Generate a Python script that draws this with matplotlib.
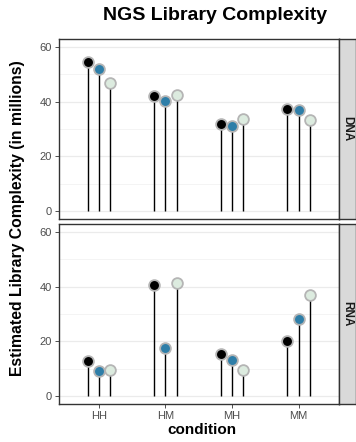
import numpy as np
import matplotlib.pyplot as plt

plt.rcParams['font.family'] = ['Liberation Sans', 'DejaVu Sans']

conditions = ["HH", "HM", "MH", "MM"]
panels = ["DNA", "RNA"]
series_colors = ["#000000", "#2e7ea8", "#dcebdf"]

# values per panel, one row per series (dodged groups)
dna_values = [
    [54.5, 42.0, 32.0, 37.3],
    [51.9, 40.2, 31.2, 37.1],
    [46.9, 42.4, 33.5, 33.2],
]
rna_values = [
    [12.7, 40.6, 15.5, 20.2],
    [9.2, 17.6, 13.3, 28.0],
    [9.3, 41.2, 9.5, 36.8],
]

W, H = 356, 442
fig = plt.figure(figsize=(W / 100, H / 100), dpi=100)


def px_axes(x0, y0, x1, y1):
    return fig.add_axes([x0 / W, 1 - y1 / H, (x1 - x0) / W, (y1 - y0) / H])


panel_boxes = [(39.3, 218.7), (224.3, 403.7)]
x = np.arange(1, len(conditions) + 1)
offsets = [-1 / 6, 0, 1 / 6]

for k, (name, vals) in enumerate(zip(panels, [dna_values, rna_values])):
    top, bot = panel_boxes[k]
    ax = px_axes(59, top, 338.5, bot)
    for s, (row, col) in enumerate(zip(vals, series_colors)):
        xs = x + offsets[s]
        ax.vlines(xs, 0, row, color="black", lw=1.0, zorder=2)
        ax.scatter(xs, row, s=60, color=col, edgecolor="#b5b5b5", linewidth=1.3, zorder=3)
    ax.set_xlim(0.4, 4.6)
    ax.set_ylim(-2.9, 62.9)
    ax.set_yticks([0, 20, 40, 60])
    ax.set_yticks([10, 30, 50], minor=True)
    ax.grid(True, axis="y", which="major", color="#ebebeb", lw=0.9)
    ax.grid(True, axis="y", which="minor", color="#f3f3f3", lw=0.6)
    ax.tick_params(which="minor", length=0)
    ax.tick_params(which="major", length=3, color="#333333", labelsize=8,
                   labelcolor="#4d4d4d", pad=2, width=0.6)
    ax.set_axisbelow(True)
    for sp in ax.spines.values():
        sp.set_color("#333333")
        sp.set_linewidth(1.0)
    ax.set_xticks(x)
    if k == 0:
        ax.tick_params(axis="x", length=0, labelbottom=False)
    else:
        ax.set_xticklabels(conditions)

    strip = px_axes(338.5, top, 356, bot)
    strip.set_facecolor("#d9d9d9")
    strip.set_xticks([])
    strip.set_yticks([])
    for sp in strip.spines.values():
        sp.set_color("#333333")
        sp.set_linewidth(1.0)
    strip.text(0.5, 0.5, name, rotation=-90, ha="center", va="center",
               fontsize=8.5, fontweight="bold", color="#1a1a1a", transform=strip.transAxes)

fig.text(215 / W, 1 - 16 / H, "NGS Library Complexity", ha="center", va="center",
         fontsize=14, fontweight="bold")
fig.text(18 / W, 1 - 218 / H, "Estimated Library Complexity (in millions)", rotation=90,
         ha="center", va="center", fontsize=11.3, fontweight="bold")
fig.text(202 / W, 1 - 430 / H, "condition", ha="center", va="center",
         fontsize=11, fontweight="bold")

fig.savefig("out.png", dpi=100)
